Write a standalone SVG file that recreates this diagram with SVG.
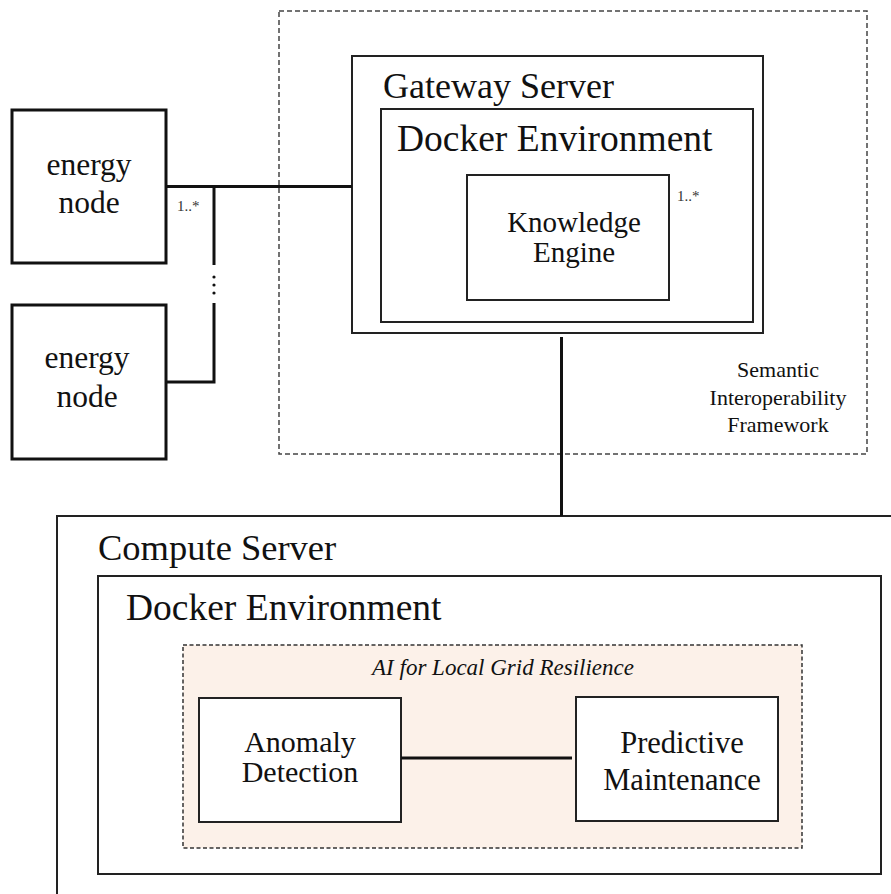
<svg xmlns="http://www.w3.org/2000/svg" width="891" height="894" viewBox="0 0 891 894">
<style>
text { font-family: "Liberation Serif", "Times New Roman", serif; fill: #111; }
.thick { fill: #fff; stroke: #111; stroke-width: 3; }
.box { fill: #fff; stroke: #222; stroke-width: 2; }
.dash { fill: none; stroke: #444; stroke-width: 1.5; stroke-dasharray: 5 3; }
.conn { fill: none; stroke: #111; stroke-width: 3; }
.mult { font-size: 15px; fill: #333; }
</style>
<rect width="891" height="894" fill="#fff"/>

<g id="framework">
  <rect class="dash" x="279" y="11" width="588" height="443"/>
  <text x="778" y="377" font-size="22" text-anchor="middle">Semantic</text>
  <text x="778" y="405" font-size="22" text-anchor="middle">Interoperability</text>
  <text x="778" y="432" font-size="22" text-anchor="middle">Framework</text>
</g>

<g id="gateway-server">
  <rect class="box" x="352" y="56" width="411" height="277"/>
  <text x="383" y="98" font-size="36">Gateway Server</text>
</g>
<g id="gateway-docker">
  <rect class="box" x="381" y="109" width="372" height="213"/>
  <text x="397" y="151" font-size="37.5">Docker Environment</text>
</g>
<g id="knowledge-engine">
  <rect class="box" x="467" y="175" width="202" height="125"/>
  <text x="574" y="232" font-size="29" text-anchor="middle">Knowledge</text>
  <text x="574" y="262" font-size="29" text-anchor="middle">Engine</text>
  <text class="mult" x="677" y="201">1..*</text>
</g>

<g id="energy-node-1">
  <rect class="thick" x="12" y="110" width="154" height="153"/>
  <text x="89" y="175" font-size="31.5" text-anchor="middle">energy</text>
  <text x="89" y="213" font-size="31.5" text-anchor="middle">node</text>
</g>
<g id="energy-node-2">
  <rect class="thick" x="12" y="305" width="154" height="154"/>
  <text x="87" y="368" font-size="31.5" text-anchor="middle">energy</text>
  <text x="87" y="407" font-size="31.5" text-anchor="middle">node</text>
</g>

<g id="compute-server">
  <rect class="box" x="57" y="516" width="900" height="420"/>
  <text x="98" y="560" font-size="36.5">Compute Server</text>
</g>
<g id="compute-docker">
  <rect class="box" x="98" y="576" width="783" height="298"/>
  <text x="126" y="620" font-size="37.5">Docker Environment</text>
</g>
<g id="ai-group">
  <rect x="183" y="645" width="619" height="203" fill="#fcf1e9" stroke="#333" stroke-width="1.5" stroke-dasharray="4 2.5"/>
  <text x="503" y="675" font-size="23" font-style="italic" text-anchor="middle">AI for Local Grid Resilience</text>
</g>
<g id="anomaly-detection">
  <rect class="box" x="199" y="698" width="202" height="124"/>
  <text x="300" y="752" font-size="30" text-anchor="middle">Anomaly</text>
  <text x="300" y="782" font-size="30" text-anchor="middle">Detection</text>
</g>
<g id="predictive-maintenance">
  <rect class="box" x="576" y="697" width="202" height="124"/>
  <text x="682" y="753" font-size="30.5" text-anchor="middle">Predictive</text>
  <text x="682" y="790" font-size="30.5" text-anchor="middle">Maintenance</text>
</g>

<g id="connectors">
  <path class="conn" d="M166 186.5 H352"/>
  <path class="conn" d="M214 186.5 V265"/>
  <path class="conn" d="M214 303 V382 H166"/>
  <circle cx="214" cy="277" r="1.6" fill="#111"/>
  <circle cx="214" cy="285" r="1.6" fill="#111"/>
  <circle cx="214" cy="293" r="1.6" fill="#111"/>
  <path class="conn" d="M561.5 337 V516"/>
  <path class="conn" d="M401 758 H572"/>
  <text class="mult" x="177" y="211">1..*</text>
</g>
</svg>
